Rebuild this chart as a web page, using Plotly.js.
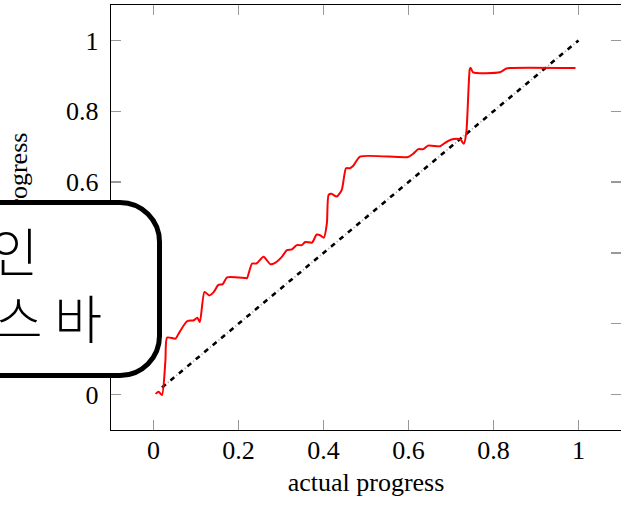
<!DOCTYPE html>
<html>
<head>
<meta charset="utf-8">
<script src="https://cdn.plot.ly/plotly-3.0.1.min.js"></script>
<style>
html,body{margin:0;padding:0;background:#fff;overflow:hidden;}
#wrap{position:relative;width:621px;height:508px;}
#chart{position:absolute;left:0;top:0;width:621px;height:508px;}
#box{position:absolute;left:-200px;top:200px;width:362px;height:178px;box-sizing:border-box;border:5px solid #000;border-radius:42px;background:#fff;}
.ln{position:absolute;font-family:"Noto Sans CJK KR","Noto Sans",sans-serif;font-weight:300;font-size:52px;line-height:60px;color:#000;white-space:nowrap;text-align:right;}
</style>
</head>
<body>
<div id="wrap">
<div id="chart"></div>
<div id="box"></div>
<div class="ln" id="l1" style="right:583px;top:220px;">진행 확인</div>
<div class="ln" id="l2" style="right:519px;top:287px;">프로그레스 바</div>
</div>
<script>
// Perceived progress (red line)
const redX = [0.005,0.012,0.020,0.028,0.032,0.052,0.059,0.079,0.095,0.103,0.109,0.120,0.131,0.142,0.152,0.163,0.173,0.216,0.220,0.232,0.242,0.259,0.275,0.286,0.302,0.314,0.326,0.337,0.349,0.357,0.373,0.384,0.392,0.401,0.408,0.412,0.419,0.431,0.443,0.453,0.462,0.470,0.486,0.599,0.611,0.623,0.635,0.646,0.674,0.685,0.701,0.717,0.723,0.730,0.736,0.744,0.746,0.752,0.815,0.829,0.838,0.993];
const redY = [0.002,0.008,-0.001,0.096,0.161,0.158,0.172,0.207,0.210,0.217,0.205,0.290,0.280,0.290,0.309,0.312,0.331,0.329,0.329,0.370,0.370,0.389,0.368,0.372,0.389,0.408,0.410,0.422,0.422,0.431,0.429,0.452,0.450,0.443,0.484,0.564,0.567,0.559,0.578,0.639,0.639,0.646,0.672,0.671,0.680,0.693,0.693,0.703,0.701,0.710,0.720,0.722,0.720,0.708,0.739,0.918,0.923,0.910,0.910,0.920,0.922,0.922];
// Diagonal reference (actual = perceived)
const diagX = [0.02, 1.0];
const diagY = [0.02, 1.0];
// Tick labels
const xTickVals = [0, 0.2, 0.4, 0.6, 0.8, 1];
const xTickText = ["0", "0.2", "0.4", "0.6", "0.8", "1"];
const yTickVals = [0, 0.2, 0.4, 0.6, 0.8, 1];
const yTickText = ["0", "0.2", "0.4", "0.6", "0.8", "1"];
const xTitle = "actual progress";
const yTitle = "perceived progress";

const serif = {family: "Liberation Serif", size: 26, color: "#000"};

const traces = [
  {x: diagX, y: diagY, mode: "lines", line: {color: "#000", width: 2.6, dash: "5px,6px"}, hoverinfo: "skip", showlegend: false},
  {x: diagX, y: diagY, mode: "lines", line: {color: "#aaa", width: 1.6, dash: "0px,7.5px,1.2px,2.3px"}, hoverinfo: "skip", showlegend: false},
  {x: redX, y: redY, mode: "lines", line: {color: "#ff0000", width: 2, shape: "spline", smoothing: 0.6}, showlegend: false}
];

const axisCommon = {
  showgrid: false, zeroline: false, showline: true, linecolor: "#000", linewidth: 1.2,
  mirror: "allticks", ticks: "inside", ticklen: 10, tickcolor: "#999", tickwidth: 1.2,
  tickfont: serif
};

const layout = {
  width: 621, height: 508,
  margin: {l: 111, r: 0, t: 5, b: 78},
  paper_bgcolor: "#fff", plot_bgcolor: "#fff",
  showlegend: false,
  xaxis: Object.assign({}, axisCommon, {
    range: [-0.1, 1.1], tickvals: xTickVals, ticktext: xTickText,
    ticklabelstandoff: -3,
    title: {text: xTitle, font: serif, standoff: 8}
  }),
  yaxis: Object.assign({}, axisCommon, {
    range: [-0.1, 1.1], tickvals: yTickVals, ticktext: yTickText,
    ticklabelstandoff: 6
  }),
  annotations: [{
    text: yTitle, font: serif, textangle: -90, showarrow: false,
    xref: "paper", yref: "paper", x: 0, y: 0.47,
    xanchor: "center", yanchor: "middle", xshift: -93
  }]
};

Plotly.newPlot("chart", traces, layout, {displayModeBar: false, staticPlot: true});
</script>
</body>
</html>
